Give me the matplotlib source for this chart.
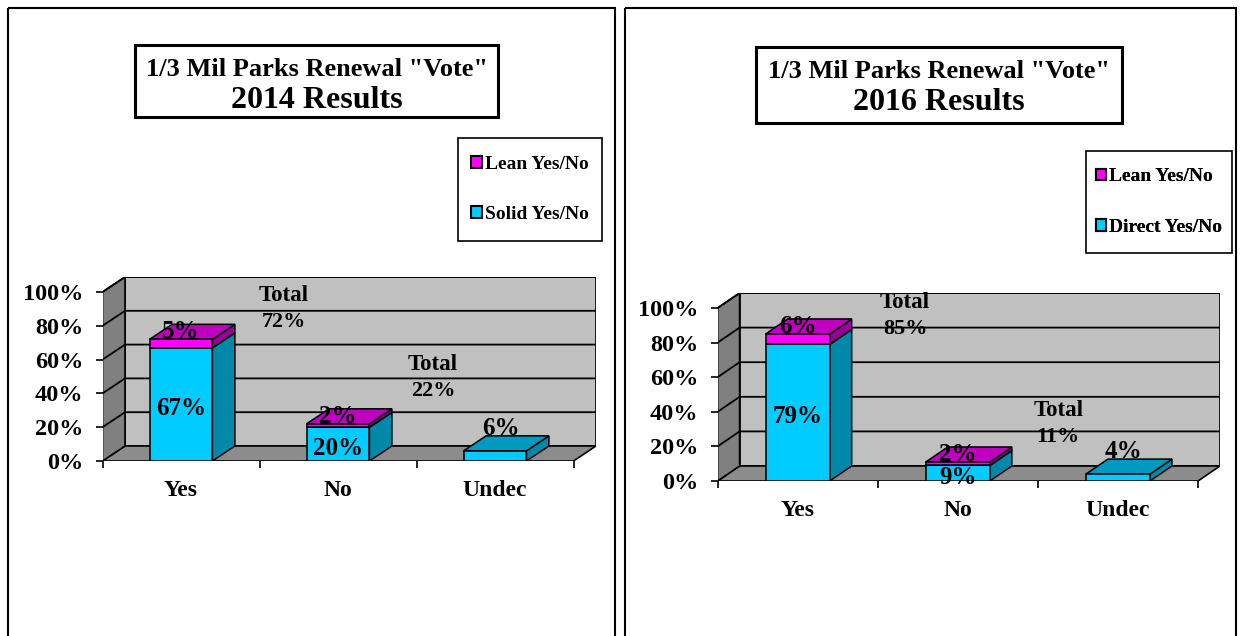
import matplotlib.pyplot as plt
from matplotlib.patches import Polygon, Rectangle

plt.rcParams['font.family'] = ['Liberation Serif', 'DejaVu Serif']
plt.rcParams['font.weight'] = 'bold'

W, H = 1241, 636

categories = ['Yes', 'No', 'Undec']
solid_2014 = [67, 20, 6]
lean_2014 = [5, 2, 0]
direct_2016 = [79, 9, 4]
lean_2016 = [6, 2, 0]
yticks = [0, 20, 40, 60, 80, 100]

CYAN, CYAN_TOP, CYAN_SIDE = '#00CCFF', '#0099C0', '#0088A8'
MAG, MAG_TOP, MAG_SIDE = '#FF00FF', '#C000C0', '#990099'
WALL, FLOOR, SIDE_WALL = '#C0C0C0', '#8C8C8C', '#808080'

fig = plt.figure(figsize=(W / 100, H / 100), dpi=100)

# page-level layer in pixel units (y grows downward)
bg = fig.add_axes([0, 0, 1, 1])
bg.set_xlim(0, W)
bg.set_ylim(H, 0)
bg.axis('off')


def frame(x0, y0, x1, y1, lw=1.5):
    bg.add_patch(Rectangle((x0, y0), x1 - x0, y1 - y0, fill=False,
                           edgecolor='black', lw=lw))


def title_box(x0, y0, x1, y1, year):
    frame(x0, y0, x1, y1, lw=2.2)
    cx = (x0 + x1) / 2
    bg.text(cx, y0 + 24, '1/3 Mil Parks Renewal "Vote"', fontsize=19,
            ha='center', va='center')
    bg.text(cx, y0 + 56, f'{year} Results', fontsize=23,
            ha='center', va='center')


def legend_box(x0, y0, x1, y1, labels):
    frame(x0, y0, x1, y1, lw=1.2)
    handles = [Rectangle((0, 0), 1, 1, facecolor=MAG, edgecolor='black', lw=1.5),
               Rectangle((0, 0), 1, 1, facecolor=CYAN, edgecolor='black', lw=1.5)]
    leg = bg.legend(handles, labels, loc='center',
                    bbox_to_anchor=((x0 + x1) / 2, (y0 + y1) / 2),
                    bbox_transform=bg.transData,
                    frameon=False, prop={'size': 14, 'weight': 'bold'},
                    handlelength=0.55, handleheight=0.55, handletextpad=0.15,
                    labelspacing=1.7, borderpad=0)
    bg.add_artist(leg)


def box3d(ax, x0, x1, y0, y1, dx, dy, front, top, side):
    kw = dict(edgecolor='black', lw=1.1, zorder=4)
    ax.add_patch(Polygon([(x1, y0), (x1 + dx, y0 + dy), (x1 + dx, y1 + dy), (x1, y1)],
                         facecolor=side, **kw))
    ax.add_patch(Polygon([(x0, y1), (x1, y1), (x1 + dx, y1 + dy), (x0 + dx, y1 + dy)],
                         facecolor=top, **kw))
    ax.add_patch(Rectangle((x0, y0), x1 - x0, y1 - y0, facecolor=front, **kw))


def chart(left, right, zero, hundred, ddx_px, ddy_px, solid, lean, total_pos):
    # left/right: pixel x of the front axis ends, zero/hundred: pixel y of 0% and 100%
    dx = ddx_px / ((right - left) / 3)
    dy = ddy_px / ((zero - hundred) / 100)
    ax = fig.add_axes([left / W, 1 - zero / H, (right + ddx_px - left) / W,
                       (zero - hundred + ddy_px) / H])
    ax.set_xlim(-0.5, 2.5 + dx)
    ax.set_ylim(0, 100 + dy)
    ax.patch.set_visible(False)
    for s in ax.spines.values():
        s.set_visible(False)

    # walls and floor
    ax.add_patch(Rectangle((-0.5 + dx, dy), 3, 100, facecolor=WALL,
                           edgecolor='black', lw=1.2, zorder=1))
    ax.add_patch(Polygon([(-0.5, 0), (2.5, 0), (2.5 + dx, dy), (-0.5 + dx, dy)],
                         facecolor=FLOOR, edgecolor='black', lw=1.2, zorder=1))
    ax.add_patch(Polygon([(-0.5, 0), (-0.5 + dx, dy), (-0.5 + dx, 100 + dy), (-0.5, 100)],
                         facecolor=SIDE_WALL, edgecolor='black', lw=1.2, zorder=1))
    for v in yticks[1:]:
        ax.plot([-0.5, -0.5 + dx, 2.5 + dx], [v, v + dy, v + dy],
                color='black', lw=1.3, zorder=2)

    w = 0.4
    for i, (s, l) in enumerate(zip(solid, lean)):
        x0, x1 = i - w / 2, i + w / 2
        box3d(ax, x0, x1, 0, s, dx, dy, CYAN, CYAN_TOP, CYAN_SIDE)
        if l:
            box3d(ax, x0, x1, s, s + l, dx, dy, MAG, MAG_TOP, MAG_SIDE)
            ax.text(i, s / 2 - 2.5, f'{s}%', fontsize=18, ha='center',
                    va='center', zorder=10)
            ax.text(i, s + l + dy / 2, f'{l}%', fontsize=18, ha='center',
                    va='center', zorder=10)
        else:
            ax.text(i + dx / 4, s + dy + 4.5, f'{s}%', fontsize=18,
                    ha='center', va='center', zorder=10)

    # two-line "Total" notes beside the stacked bars
    for (tx, ty), s, l in zip(total_pos, solid, lean):
        ax.annotate('Total', (tx, ty), xytext=(0, 9.5), textcoords='offset points',
                    fontsize=16.5, ha='center', va='center', zorder=10)
        ax.annotate(f'{s + l}%', (tx, ty), xytext=(0, -9.5), textcoords='offset points',
                    fontsize=16, ha='center', va='center', zorder=10)

    ax.set_yticks(yticks, [f'{v}%' for v in yticks])
    ax.tick_params(axis='y', length=5, width=1.2, pad=9, labelsize=17.5)
    ax.set_xticks([-0.5, 0.5, 1.5, 2.5], [])
    ax.set_xticks(range(len(categories)), categories, minor=True)
    ax.tick_params(axis='x', which='major', length=5, width=1.2)
    ax.tick_params(axis='x', which='minor', length=0, pad=14, labelsize=17)
    return ax


# 2014 panel
frame(8, 8, 615, 700)
title_box(135, 45, 498, 117, 2014)
legend_box(458, 138, 602, 241, ['Lean Yes/No', 'Solid Yes/No'])
chart(102.5, 573.5, 461, 292, 22.5, 15, solid_2014, lean_2014,
      [(0.656, 90.2), (1.605, 49.4)])

# 2016 panel
frame(625, 8, 1236, 700)
title_box(756, 47, 1122, 123, 2016)
legend_box(1086, 151, 1232, 253, ['Lean Yes/No', 'Direct Yes/No'])
chart(717.6, 1198, 481, 308, 22, 15, direct_2016, lean_2016,
      [(0.671, 95.3), (1.627, 33.2)])

fig.savefig('out.png', dpi=100)
